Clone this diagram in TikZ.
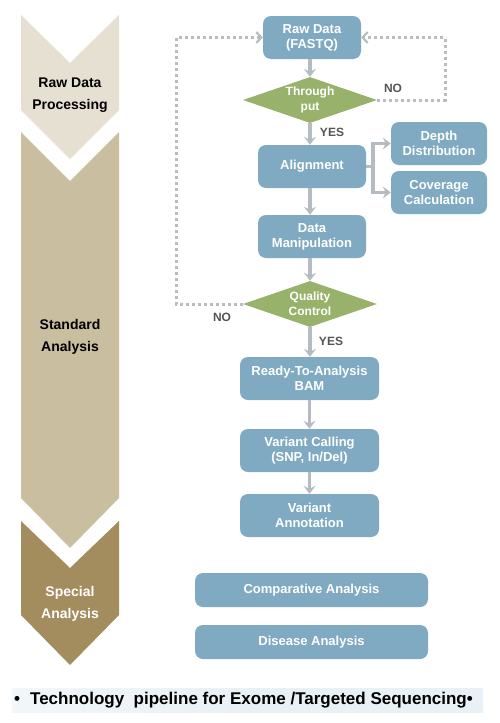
\documentclass[tikz,border=0pt]{standalone}
\usepackage{fontspec}
\setmainfont{Liberation Sans}
\usetikzlibrary{shapes.geometric,arrows.meta}
\definecolor{chevA}{HTML}{E6E0D3}
\definecolor{chevB}{HTML}{C9BEA0}
\definecolor{chevC}{HTML}{A38D5E}
\definecolor{boxblue}{HTML}{80AAC2}
\definecolor{diagreen}{HTML}{98B26C}
\definecolor{arrgray}{HTML}{B4BBC2}
\definecolor{dotgray}{HTML}{B8BDC3}
\definecolor{lblgray}{HTML}{555555}
\definecolor{capbg}{HTML}{E8F1F6}
\tikzset{
  procbox/.style={draw=none, fill=boxblue, rounded corners=8pt, text=white, align=center,
    font=\bfseries\fontsize{13}{15}\selectfont, inner sep=0pt},
  decbox/.style={diamond, draw=none, fill=diagreen, text=white, align=center,
    font=\bfseries\fontsize{12}{15}\selectfont, inner sep=0pt, aspect=2.9,
    minimum width=134pt, minimum height=46pt},
  flowarr/.style={draw=arrgray, line width=3.5pt, -{Stealth[length=8pt,width=12pt,inset=3pt]}},
  branchln/.style={draw=arrgray, line width=3.5pt},
  dotarr/.style={draw=dotgray, line width=3pt, dash pattern=on 3pt off 3pt,
    -{Straight Barb[length=5pt,width=11pt,line width=2.2pt]}},
  yesno/.style={text=lblgray, font=\bfseries\fontsize{12}{14}\selectfont, inner sep=0pt},
  chevlbl/.style={align=center, font=\bfseries\fontsize{14}{22}\selectfont, inner sep=0pt}
}
\begin{document}
\begin{tikzpicture}[x=1pt,y=-1pt]
\useasboundingbox (0,0) rectangle (500,723);
\fill[white] (0,0) rectangle (500,723);
% chevrons
\fill[chevA] (21,15) -- (70,63) -- (119,15) -- (119,110) -- (70,159) -- (21,110) -- cycle;
\fill[chevB] (21,132) -- (70,181) -- (119,132) -- (119,498) -- (70,548) -- (21,498) -- cycle;
\fill[chevC] (21,521) -- (70,568) -- (119,521) -- (119,615) -- (70,665) -- (21,615) -- cycle;
\node[chevlbl, text=black] (lraw) at (70,95) {Raw Data\\Processing};
\node[chevlbl, text=black] (lstd) at (70,337) {Standard\\Analysis};
\node[chevlbl, text=white] (lspc) at (70,604) {Special\\Analysis};
% flow nodes
\node[procbox, minimum width=98pt, minimum height=43pt] (raw) at (312,37.5) {Raw Data\\(FASTQ)};
\node[decbox] (thr) at (310,100) {Through\\put};
\node[procbox, minimum width=108pt, minimum height=43pt] (align) at (312,166.5) {Alignment};
\node[procbox, minimum width=96pt, minimum height=43pt] (depth) at (439,143.5) {Depth\\Distribution};
\node[procbox, minimum width=96pt, minimum height=43pt] (cov) at (439,192.5) {Coverage\\Calculation};
\node[procbox, minimum width=108pt, minimum height=43pt] (manip) at (312,236.5) {Data\\Manipulation};
\node[decbox] (qc) at (310,304) {Quality\\Control};
\node[procbox, minimum width=139pt, minimum height=43pt] (bam) at (309.5,378.5) {Ready-To-Analysis\\BAM};
\node[procbox, minimum width=139pt, minimum height=43pt] (vc) at (309.5,450.5) {Variant Calling\\(SNP, In/Del)};
\node[procbox, minimum width=139pt, minimum height=43pt] (va) at (309.5,515.5) {Variant\\Annotation};
\node[procbox, minimum width=233pt, minimum height=34pt] (comp) at (311.5,590) {Comparative Analysis};
\node[procbox, minimum width=233pt, minimum height=34pt] (dis) at (311.5,642) {Disease Analysis};
% arrows
\draw[flowarr] (raw.south -| thr) -- (thr.north);
\draw[flowarr] (thr.south) -- (thr.south |- align.north);
\draw[flowarr] (align.south -| qc) -- (manip.north -| qc);
\draw[flowarr] (manip.south -| qc) -- (qc.north);
\draw[flowarr] (qc.south) -- (qc.south |- bam.north);
\draw[flowarr] (bam.south) -- (vc.north);
\draw[flowarr] (vc.south) -- (va.north);
\coordinate (br) at (373,166.5);
\draw[branchln] (align.east) -- (br);
\draw[flowarr] (br) |- (depth.west);
\draw[flowarr] (br) |- (cov.west);
% loops
\coordinate (nr) at (445,0);
\coordinate (nl) at (176,0);
\draw[dotarr] (thr.east) -- (thr.east -| nr) |- (raw.east);
\draw[dotarr] (qc.west) -- (qc.west -| nl) |- (raw.west);
% labels
\node[yesno] (no1) at (393,88) {NO};
\node[yesno] (yes1) at (332,132) {YES};
\node[yesno] (no2) at (222,317) {NO};
\node[yesno] (yes2) at (331,341) {YES};
% caption
\shade[left color=capbg!60, right color=capbg, middle color=capbg] (12,688) rectangle (483,712);
\node[anchor=west, inner sep=0pt, font=\bfseries\fontsize{17}{20}\selectfont, text=black] (cap) at (14,700) {•\hspace{10pt}Technology\ \ pipeline for Exome /Targeted Sequencing•};
\end{tikzpicture}
\end{document}
